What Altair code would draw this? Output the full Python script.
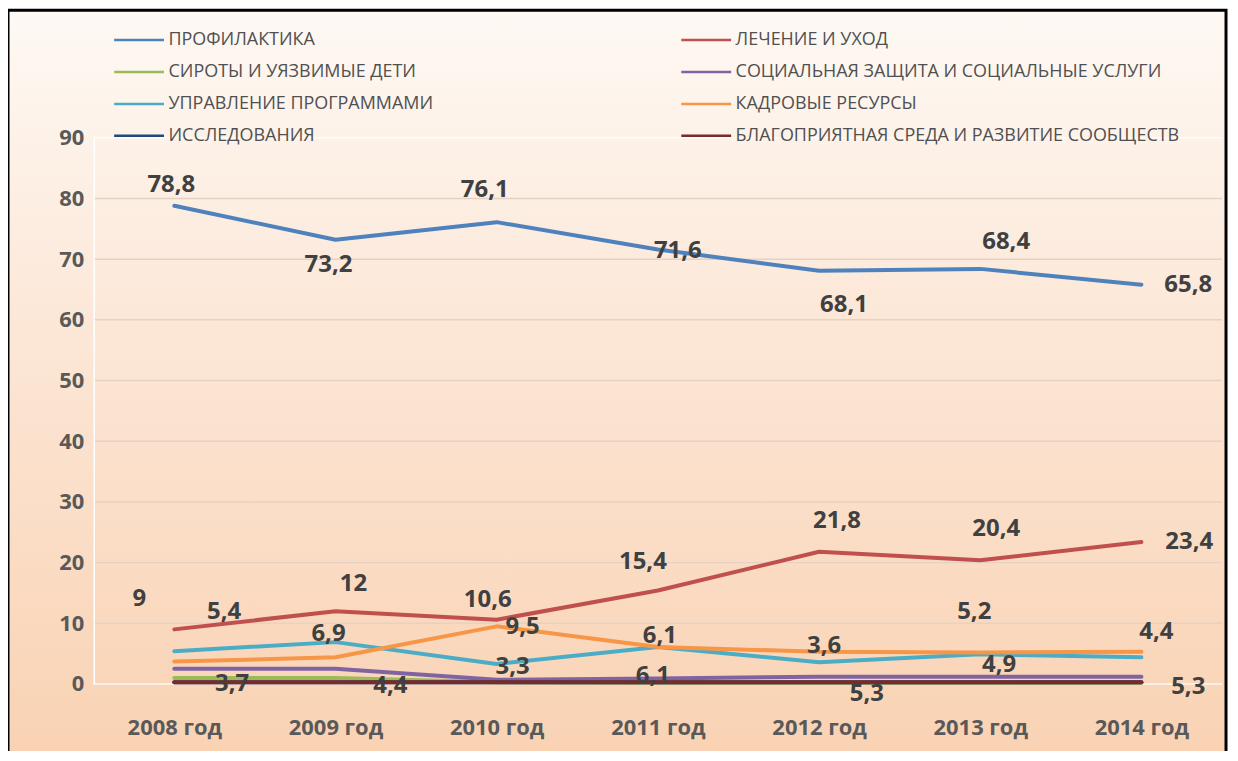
import altair as alt
import pandas as pd

# ---------------- data ----------------
years = ["2008 год", "2009 год", "2010 год", "2011 год", "2012 год", "2013 год", "2014 год"]
series = [
    "ПРОФИЛАКТИКА",
    "ЛЕЧЕНИЕ И УХОД",
    "СИРОТЫ И УЯЗВИМЫЕ ДЕТИ",
    "СОЦИАЛЬНАЯ ЗАЩИТА И СОЦИАЛЬНЫЕ УСЛУГИ",
    "УПРАВЛЕНИЕ ПРОГРАММАМИ",
    "КАДРОВЫЕ РЕСУРСЫ",
    "ИССЛЕДОВАНИЯ",
    "БЛАГОПРИЯТНАЯ СРЕДА И РАЗВИТИЕ СООБЩЕСТВ",
]
prevention = [78.8, 73.2, 76.1, 71.6, 68.1, 68.4, 65.8]
treatment = [9, 12, 10.6, 15.4, 21.8, 20.4, 23.4]
orphans = [1.0, 1.0, 0.3, 0.2, 0.2, 0.2, 0.2]
social = [2.5, 2.5, 0.7, 0.9, 1.2, 1.2, 1.2]
management = [5.4, 6.9, 3.3, 6.1, 3.6, 4.9, 4.4]
hr = [3.7, 4.4, 9.5, 6.1, 5.3, 5.2, 5.3]
research = [0.3, 0.3, 0.3, 0.3, 0.3, 0.3, 0.3]
environment = [0.3, 0.3, 0.3, 0.3, 0.3, 0.3, 0.3]
all_values = [prevention, treatment, orphans, social, management, hr, research, environment]

# which series carry data labels
labelled = [0, 1, 4, 5]

# ---------------- style ----------------
colors = ["#4f81bd", "#c0504d", "#9bbb59", "#8064a2", "#4bacc6", "#f79646", "#1f497d", "#772c2a"]
# label offsets in pixels (dx, dy) per labelled series, per year
label_dx = {
    0: [-3, -7, -12, 20, 25, 26, 47],
    1: [-35, 18, -9, -15, 18, 16, 48],
    4: [50, -7, 16, 2, 5, 19, 15],
    5: [58, 55, 26, -5, 48, -6, 47],
}
label_dy = {
    0: [-21, 25, -32, 2, 34, -27, 0],
    1: [-30, -27, -20, -29, -31, -31, 0],
    4: [-39, -8, 3, -11, -16, 11, -25],
    5: [23, 29, 1, 29, 42, -41, 35],
}

W, H = 1132, 548
FONT = "Open Sans"

rows = []
for s, vals in zip(series, all_values):
    for y, v in zip(years, vals):
        rows.append({"year": y, "series": s, "value": v})
df = pd.DataFrame(rows)

x_enc = alt.X("year:N", sort=years,
              scale=alt.Scale(domain=years, padding=0.5),
              axis=alt.Axis(title=None, labelAngle=0, ticks=False, domain=False,
                            labelPadding=34, labelFontSize=22, zindex=1))
y_scale = alt.Scale(domain=[0, 90], nice=False, zero=True)

background = alt.Chart(pd.DataFrame({"a": [0]})).mark_rect(
    color=alt.LinearGradient(
        gradient="linear", x1=0, x2=0, y1=0, y2=1,
        stops=[alt.GradientStop(color="#fef9f4", offset=0),
               alt.GradientStop(color="#fce6d5", offset=0.45),
               alt.GradientStop(color="#f9d2b3", offset=1)]),
    stroke="#000000", strokeWidth=3,
).encode(x=alt.value(-86), x2=alt.value(1136), y=alt.value(-128), y2=alt.value(624))

grid = alt.Chart(pd.DataFrame({"g": [10, 20, 30, 40, 50, 60, 70, 80]})).mark_rule(
    color="#e6d2c4", strokeWidth=1.5
).encode(y=alt.Y("g:Q", scale=y_scale))

frame = alt.Chart(pd.DataFrame({"g": [0, 90]})).mark_rule(
    color="#ffffff", strokeWidth=1.5, opacity=0.8
).encode(y=alt.Y("g:Q", scale=y_scale))

lines = alt.Chart(df).mark_line(strokeWidth=4, strokeCap="round", strokeJoin="round").encode(
    x=x_enc,
    y=alt.Y("value:Q", scale=y_scale,
            axis=alt.Axis(title=None, values=list(range(0, 91, 10)), ticks=False,
                          grid=False, domain=True, domainColor="#ffffff", domainWidth=1.5,
                          labelPadding=10, labelFontSize=22, zindex=1)),
    color=alt.Color("series:N", sort=series,
                    scale=alt.Scale(domain=series, range=colors),
                    legend=alt.Legend(title=None, orient="none", legendX=19, legendY=-107,
                                      direction="horizontal",
                                      columns=2, columnPadding=247, rowPadding=14,
                                      clipHeight=18,
                                      symbolType="stroke", symbolSize=2500,
                                      symbolStrokeWidth=2.5, labelFont=FONT,
                                      labelFontSize=18, labelFontWeight="normal",
                                      labelColor="#505050", labelOffset=3,
                                      labelLimit=700, zindex=1)),
    order=alt.Order("series_order:Q"),
).transform_calculate(
    series_order="indexof(" + str(series) + ", datum.series)"
)

layers = [background, grid, frame, lines]
for si in labelled:
    for yi, y in enumerate(years):
        v = all_values[si][yi]
        txt = f"{v:g}".replace(".", ",")
        d = pd.DataFrame({"year": [y], "value": [v], "label": [txt]})
        layers.append(
            alt.Chart(d).mark_text(
                dx=label_dx[si][yi], dy=label_dy[si][yi], font=FONT,
                fontSize=24, fontWeight="bold", color="#404040",
            ).encode(
                x=alt.X("year:N", sort=years, scale=alt.Scale(domain=years, padding=0.5)),
                y=alt.Y("value:Q", scale=y_scale),
                text="label:N",
            )
        )

chart = alt.layer(*layers).properties(
    width=W, height=H,
    autosize=alt.AutoSizeParams(type="none"),
    padding={"left": 86, "top": 129, "right": 8, "bottom": 66},
).configure(
    background="#ffffff",
).configure_view(
    stroke=None,
).configure_axis(
    labelFont=FONT, labelFontWeight="bold", labelColor="#595959",
)

chart.save("out.html", embed_options={"renderer": "svg", "actions": False})
